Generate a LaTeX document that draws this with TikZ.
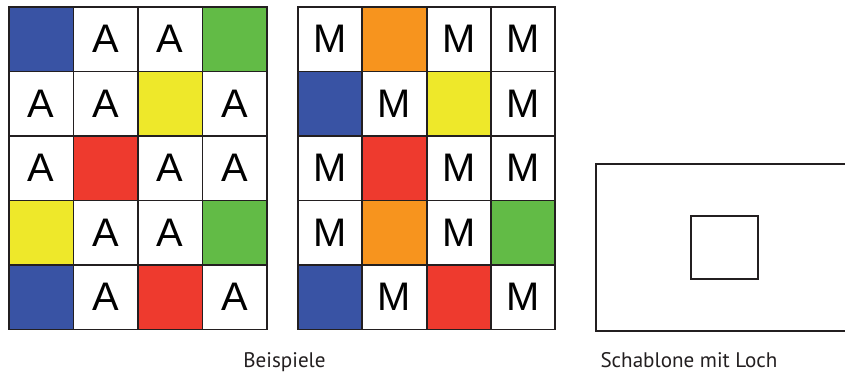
\documentclass[tikz,border=0pt]{standalone}
\usepackage{fontspec}
\setmainfont{Liberation Sans}
\newfontfamily\capfont{PT Sans}
\definecolor{cblue}{HTML}{3953A4}
\definecolor{cgreen}{HTML}{62BB46}
\definecolor{cyellow}{HTML}{EEE82A}
\definecolor{cred}{HTML}{EE3A2E}
\definecolor{corange}{HTML}{F7941E}
\definecolor{ink}{HTML}{231F20}
\tikzset{
  cell/.style={draw=ink, line width=1.7pt, minimum size=1.935cm, inner sep=0pt,
    font=\fontsize{34}{38}\selectfont},
  cb/.style={cell, fill=cblue}, cg/.style={cell, fill=cgreen},
  cy/.style={cell, fill=cyellow}, cr/.style={cell, fill=cred},
  co/.style={cell, fill=corange}, ct/.style={cell, fill=white},
  frame/.style={draw=ink, line width=1.4pt, inner sep=0pt},
  caption/.style={font=\capfont\fontsize{18}{22}\selectfont, text=ink, anchor=base}
}
\begin{document}
\begin{tikzpicture}[x=0.03cm,y=-0.03cm]
\useasboundingbox (0,0) rectangle (845,373);
% left example
\foreach \row [count=\j] in {{cb/{},ct/A,ct/A,cg/{}},{ct/A,ct/A,cy/{},ct/A},
    {ct/A,cr/{},ct/A,ct/A},{cy/{},ct/A,ct/A,cg/{}},{cb/{},ct/A,cr/{},ct/A}}
  \foreach \s/\t [count=\i] in \row
    \node[\s] (L\j\i) at (9+64.5*\i-32.25,7+64.5*\j-32.25) {\t};
% right example
\foreach \row [count=\j] in {{ct/M,co/{},ct/M,ct/M},{cb/{},ct/M,cy/{},ct/M},
    {ct/M,cr/{},ct/M,ct/M},{ct/M,co/{},ct/M,cg/{}},{cb/{},ct/M,cr/{},ct/M}}
  \foreach \s/\t [count=\i] in \row
    \node[\s] (R\j\i) at (298+64.3*\i-32.15,7+64.5*\j-32.25) {\t};
% template
\node[frame, minimum width=7.56cm, minimum height=5.01cm] (plate) at (722,247.5) {};
\node[frame, minimum width=2.01cm, minimum height=1.89cm] (hole) at (724.5,247.5) {};
\node[caption] (bsp) at (284.5,367) {Beispiele};
\node[caption] (tmpl) at (689,367) {Schablone mit Loch};
\end{tikzpicture}
\end{document}
